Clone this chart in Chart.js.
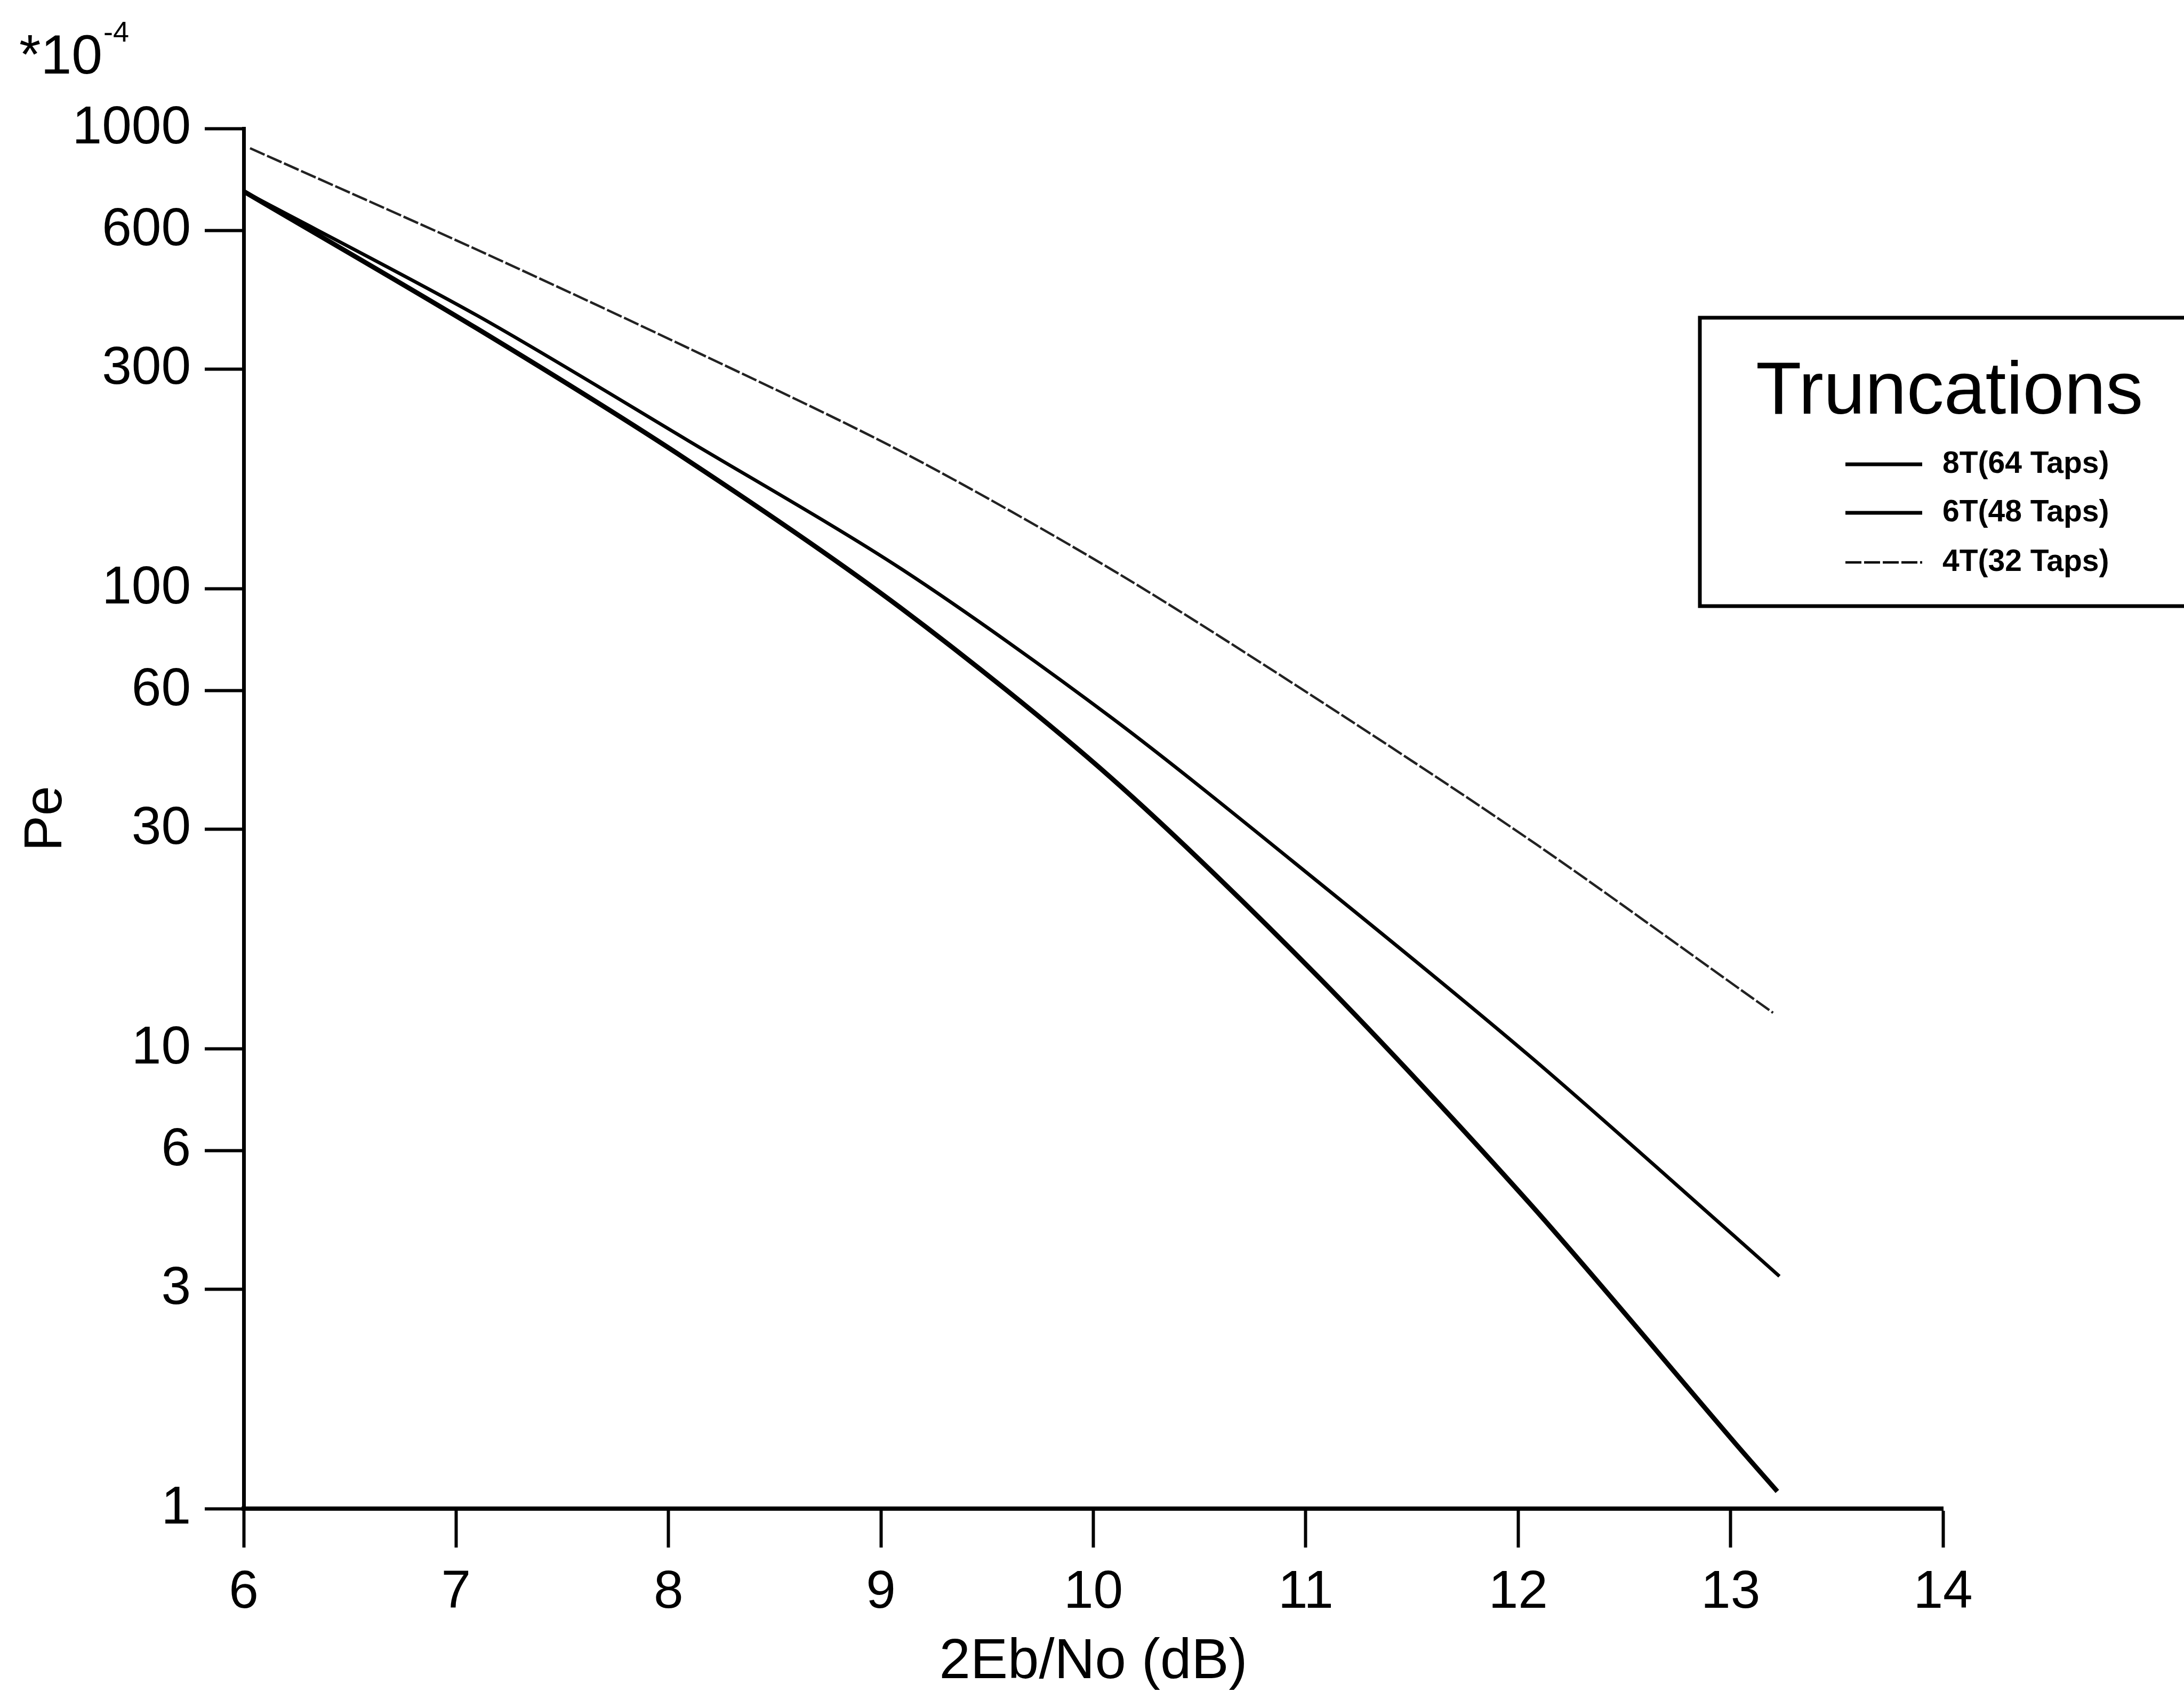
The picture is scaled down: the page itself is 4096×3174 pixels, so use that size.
<!DOCTYPE html>
<html>
<head>
<meta charset="utf-8">
<title>Pe vs 2Eb/No - Truncations</title>
<script src="https://cdn.jsdelivr.net/npm/chart.js@4.4.1/dist/chart.umd.min.js"></script>
<style>
    html, body { margin: 0; padding: 0; background: #fff; }
    #wrap { width: 4096px; height: 3174px; }
</style>
</head>
<body>
<div id="wrap"><canvas id="peChart" width="4096" height="3174"></canvas></div>
<script>
// Pe values are in units of 1e-4 (see the *10^-4 note on the axis)
const xTicks = [6, 7, 8, 9, 10, 11, 12, 13, 14];
const yTicks = [1, 3, 6, 10, 30, 60, 100, 300, 600, 1000];

const seriesLabels = ['8T(64 Taps)', '6T(48 Taps)', '4T(32 Taps)'];

const snr8T = [6.0, 7.10, 8.09, 9.09, 10.08, 11.06, 12.05, 13.02, 13.22];
const pe8T  = [730, 367, 190, 91, 38.9, 14.3, 4.63, 1.39, 1.09];

const snr6T = [6.0, 7.10, 8.09, 9.10, 10.09, 11.07, 12.06, 13.04, 13.23];
const pe6T  = [730, 392, 210, 110, 52.2, 22.8, 9.58, 3.83, 3.20];

const snr4T = [6.03, 7.11, 8.10, 9.11, 10.10, 11.09, 12.08, 13.06, 13.20];
const pe4T  = [906, 542, 332, 197, 109, 56.1, 27.9, 13.3, 11.96];

const FONT = "'Liberation Sans', Arial, Helvetica, sans-serif";

function toPoints(xs, ys) {
    return xs.map((x, i) => ({ x: x, y: ys[i] }));
}

// exponent note + boxed legend, drawn on top of the chart
const annotations = {
    id: 'annotations',
    afterDraw(chart) {
        const ctx = chart.ctx;
        ctx.save();
        ctx.fillStyle = '#000';
        ctx.textAlign = 'left';
        ctx.textBaseline = 'alphabetic';

        ctx.font = `104px ${FONT}`;
        ctx.fillText('*10', 36, 138);
        ctx.font = `54px ${FONT}`;
        ctx.fillText('-4', 194, 78);

        // legend box (runs off the right edge like the original)
        ctx.strokeStyle = '#000';
        ctx.lineWidth = 7;
        ctx.strokeRect(3188, 596, 1000, 541);

        ctx.font = `140px ${FONT}`;
        ctx.fillText('Truncations', 3293, 776);

        ctx.font = `bold 57px ${FONT}`;
        ctx.textBaseline = 'middle';
        const rows = [871, 962, 1055];
        chart.data.datasets.forEach((ds, i) => {
            ctx.lineWidth = ds.legendWidth;
            ctx.setLineDash(ds.borderDash || []);
            ctx.beginPath();
            ctx.moveTo(3461, rows[i]);
            ctx.lineTo(3605, rows[i]);
            ctx.stroke();
            ctx.setLineDash([]);
            ctx.fillText(ds.label, 3643, rows[i]);
        });
        ctx.restore();
    }
};

const axisGrid = {
    drawOnChartArea: false,
    drawTicks: true,
    tickLength: 73,
    tickWidth: 6,
    tickColor: '#000',
    color: '#000'
};

new Chart(document.getElementById('peChart'), {
    type: 'line',
    data: {
        datasets: [
            {
                label: seriesLabels[0],
                data: toPoints(snr8T, pe8T),
                borderColor: '#000',
                borderWidth: 9,
                legendWidth: 7
            },
            {
                label: seriesLabels[1],
                data: toPoints(snr6T, pe6T),
                borderColor: '#000',
                borderWidth: 6.5,
                legendWidth: 7
            },
            {
                label: seriesLabels[2],
                data: toPoints(snr4T, pe4T),
                borderColor: '#222',
                borderWidth: 4.5,
                borderDash: [30, 5],
                legendWidth: 4.5
            }
        ]
    },
    options: {
        responsive: false,
        animation: false,
        devicePixelRatio: 1,
        layout: { padding: { top: 241, right: 452, left: 0, bottom: 0 } },
        plugins: {
            legend: { display: false },
            tooltip: { enabled: false }
        },
        elements: {
            point: { radius: 0 },
            line: { tension: 0.3 }
        },
        scales: {
            x: {
                type: 'linear',
                min: 6,
                max: 14,
                afterBuildTicks: s => { s.ticks = xTicks.map(v => ({ value: v })); },
                afterFit: s => { s.height = 344; },
                ticks: {
                    color: '#000',
                    padding: 25,
                    autoSkip: false,
                    maxRotation: 0,
                    font: { family: FONT, size: 100 },
                    callback: v => String(v)
                },
                grid: axisGrid,
                border: { display: true, color: '#000', width: 8 },
                title: {
                    display: true,
                    text: '2Eb/No (dB)',
                    color: '#000',
                    font: { family: FONT, size: 105, lineHeight: 1 },
                    padding: { top: 0, bottom: 2 }
                }
            },
            y: {
                type: 'logarithmic',
                min: 1,
                max: 1000,
                afterBuildTicks: s => { s.ticks = yTicks.map(v => ({ value: v })); },
                afterFit: s => { s.width = 457; },
                ticks: {
                    color: '#000',
                    padding: 26,
                    autoSkip: false,
                    font: { family: FONT, size: 100 },
                    callback: v => String(v)
                },
                grid: axisGrid,
                border: { display: true, color: '#000', width: 7 },
                title: {
                    display: true,
                    text: 'Pe',
                    color: '#000',
                    font: { family: FONT, size: 100, lineHeight: 1 },
                    padding: { top: 37, bottom: 0 }
                }
            }
        }
    },
    plugins: [annotations]
});
</script>
</body>
</html>
